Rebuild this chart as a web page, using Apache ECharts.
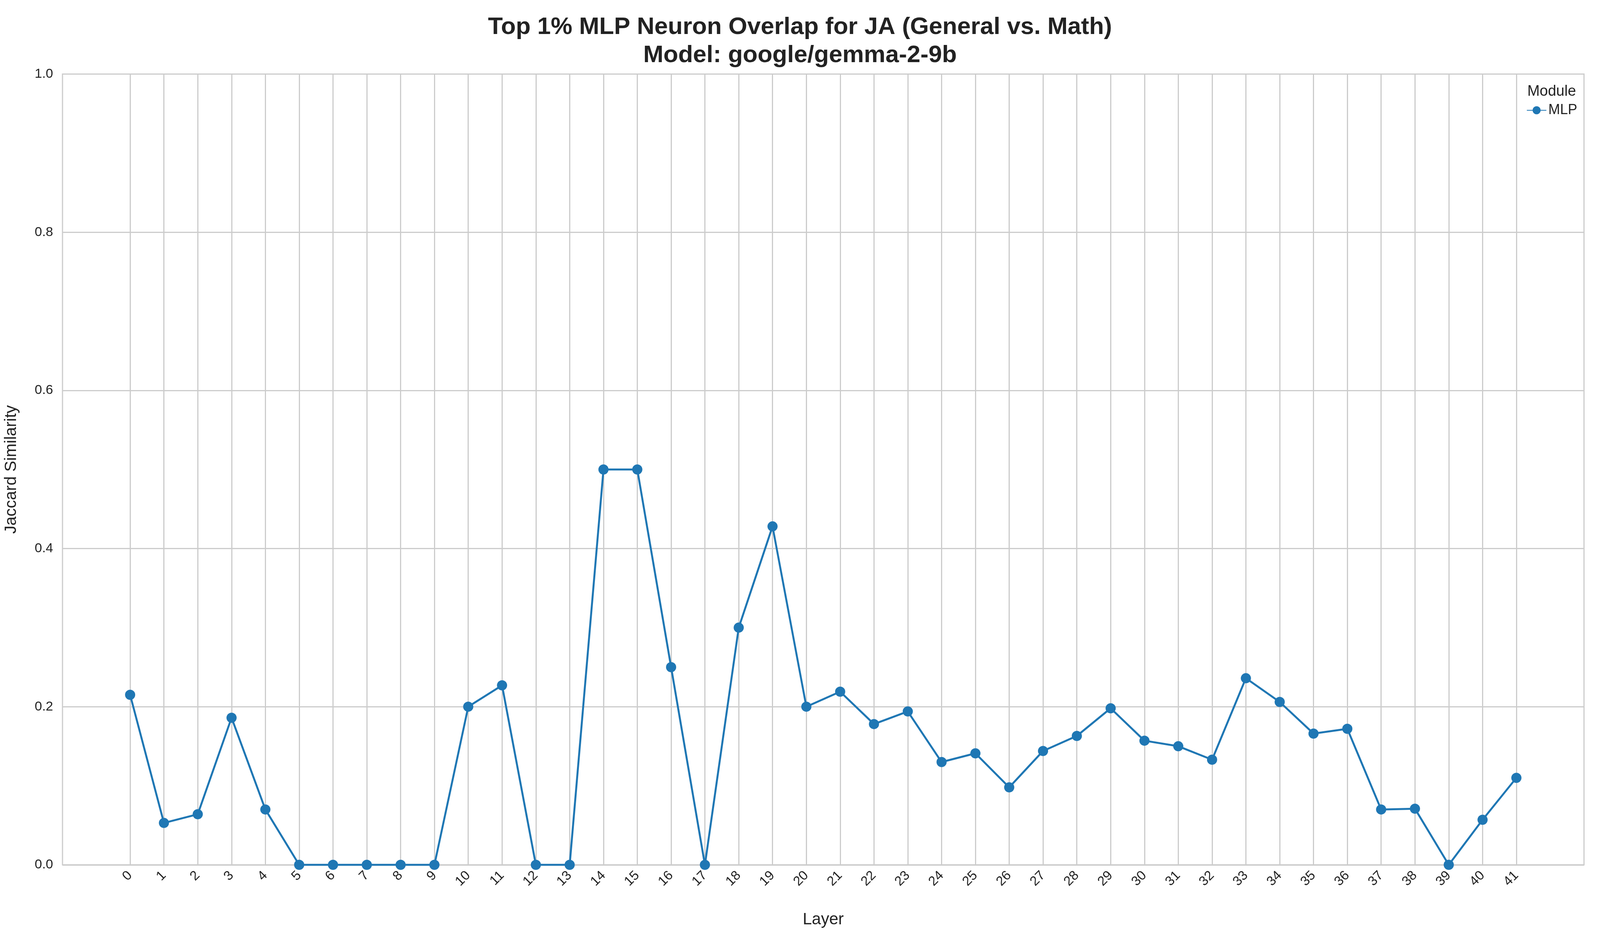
<!DOCTYPE html>
<html>
<head>
<meta charset="utf-8">
<script src="https://cdn.jsdelivr.net/npm/echarts@6/dist/echarts.min.js"></script>
<style>html,body{margin:0;padding:0;background:#fff;overflow:hidden}#chart{width:100vw;height:100vh}</style>
</head>
<body>
<div id="chart"></div>
<script>
// Données
const layers = Array.from({length: 42}, (_, i) => String(i));
const mlpValues = [0.215, 0.053, 0.064, 0.186, 0.070, 0, 0, 0, 0, 0,
  0.200, 0.227, 0, 0, 0.500, 0.500, 0.250, 0, 0.300, 0.428,
  0.200, 0.219, 0.178, 0.194, 0.130, 0.141, 0.098, 0.144, 0.163, 0.198,
  0.157, 0.150, 0.133, 0.236, 0.206, 0.166, 0.172, 0.070, 0.071, 0,
  0.057, 0.110];
const yTicks = [0, 0.2, 0.4, 0.6, 0.8, 1.0];

// deux catégories vides de chaque côté pour la marge
const pad = 2;
const cats = ['p0', 'p1'].concat(layers, ['p2', 'p3']);
const inRange = (i) => i >= pad && i < pad + layers.length;

const chart = echarts.init(document.getElementById('chart'));
chart.setOption({
    backgroundColor: '#fff',
    textStyle: {fontFamily: 'DejaVu Sans'},
    title: {
        text: 'Top 1% MLP Neuron Overlap for JA (General vs. Math)\nModel: google/gemma-2-9b',
        left: 'center', top: '1.2%',
        textStyle: {fontSize: 62, fontWeight: 'bold', color: '#222', lineHeight: 72, fontFamily: 'Liberation Sans'}
    },
    legend: {
        data: ['MLP'], right: '1.3%', top: '10.8%', orient: 'vertical',
        itemWidth: 50, itemHeight: 26, itemGap: 10,
        textStyle: {fontSize: 36, color: '#222', fontFamily: 'Liberation Sans'}
    },
    graphic: [{
        type: 'text', right: '1.5%', top: '9.0%',
        style: {text: 'Module', fontSize: 38, fill: '#222', fontFamily: 'Liberation Sans'}
    }],
    grid: {left: '3.7%', right: '1%', top: '7.9%', bottom: '7.8%', show: true, borderColor: '#ccc', borderWidth: 3},
    xAxis: {
        type: 'category', data: cats, boundaryGap: false,
        name: 'Layer', nameLocation: 'middle', nameGap: 120,
        nameTextStyle: {fontSize: 42, color: '#222', fontFamily: 'Liberation Sans'},
        axisLine: {show: false}, axisTick: {show: false},
        axisLabel: {
            interval: (i) => inRange(i), rotate: 45, fontSize: 34, color: '#222', margin: 22,
            fontFamily: 'Liberation Sans', formatter: (v) => v.startsWith('p') ? '' : v
        },
        splitLine: {show: true, interval: (i) => inRange(i), lineStyle: {color: '#ccc', width: 3}}
    },
    yAxis: {
        type: 'value', min: 0, max: 1, interval: 0.2,
        name: 'Jaccard Similarity', nameLocation: 'middle', nameGap: 110,
        nameTextStyle: {fontSize: 42, color: '#222', fontFamily: 'Liberation Sans'},
        axisLine: {show: false}, axisTick: {show: false},
        axisLabel: {fontSize: 34, color: '#222', margin: 24, fontFamily: 'Liberation Sans',
            formatter: (v) => yTicks.includes(Math.round(v * 10) / 10) ? v.toFixed(1) : ''},
        splitLine: {lineStyle: {color: '#ccc', width: 3}}
    },
    series: [{
        name: 'MLP', type: 'line',
        data: layers.map((l, i) => [l, mlpValues[i]]),
        symbol: 'circle', symbolSize: 26,
        itemStyle: {color: '#1f77b4'},
        lineStyle: {color: '#1f77b4', width: 5},
        clip: false, animation: false
    }]
});
window.addEventListener('resize', () => chart.resize());
</script>
</body>
</html>
